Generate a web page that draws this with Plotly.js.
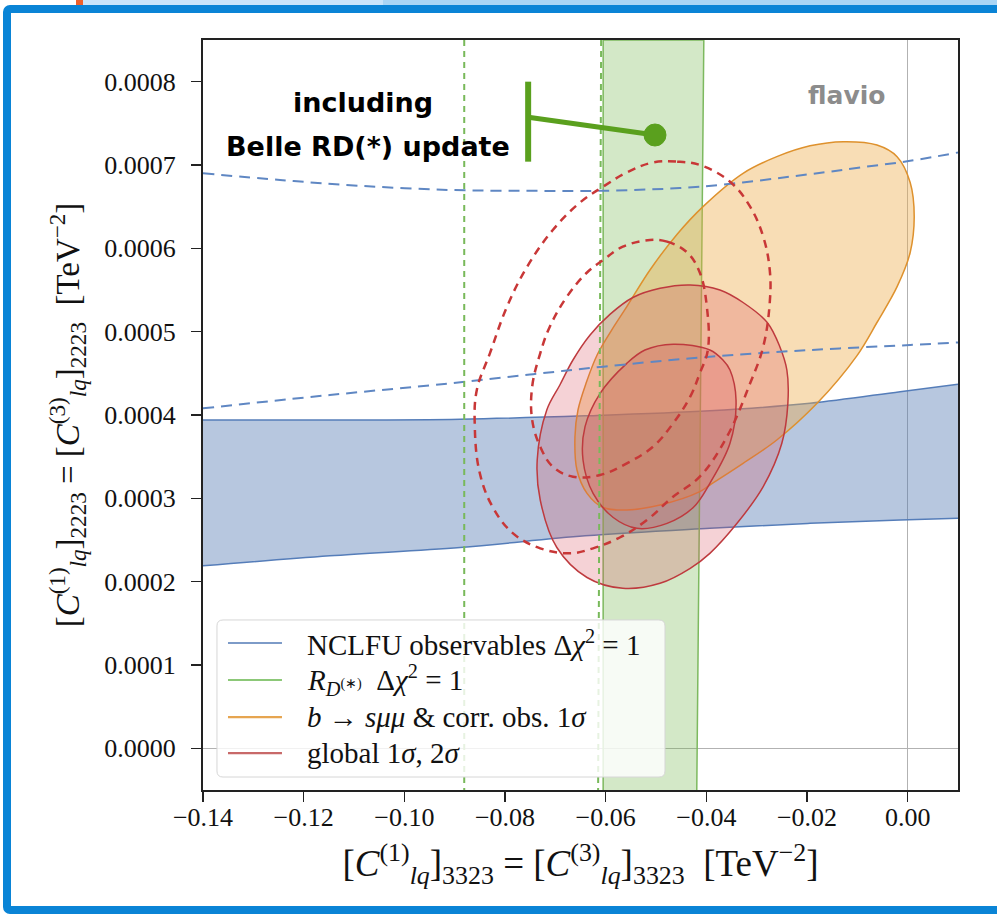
<!DOCTYPE html>
<html>
<head>
<meta charset="utf-8">
<script src="https://cdn.plot.ly/plotly-3.0.1.min.js"></script>
<style>
  html, body { margin: 0; padding: 0; background: #ffffff; }
  #wrap { position: relative; width: 997px; height: 920px; overflow: hidden; background: #fff; }
  #chart { position: absolute; left: 0; top: 0; width: 997px; height: 920px; }
  .frame { position: absolute; left: 3px; top: 5px; width: 1002px; height: 909px; box-sizing: border-box;
           border: 8px solid #0a84d6; border-radius: 7px; pointer-events: none; }
  .strip { position: absolute; left: 83px; top: 0; width: 914px; height: 5px; background: #a9d5f5; }
  .strip2 { position: absolute; left: 83px; top: 0; width: 300px; height: 5px; background: #c9e4fa; }
  .mark { position: absolute; left: 76px; top: 0; width: 7px; height: 6px; background: #f0602a; }
</style>
</head>
<body>
<div id="wrap">
  <div id="chart"></div>
  <div class="strip"></div><div class="strip2"></div><div class="mark"></div>
  <div class="frame"></div>
</div>
<script>
// ---- NCLFU observables (blue band, Δχ²=1) ----
const nclfuX      = [-0.14, -0.1148, -0.0889, -0.0641, -0.0393, -0.0194, -0.0015, 0.01];
const nclfuLower  = [0.000219, 0.000231, 0.000241, 0.000255, 0.000264, 0.000270, 0.000274, 0.000276];
const nclfuUpper  = [0.000394, 0.000394, 0.000395, 0.000399, 0.000405, 0.000414, 0.000428, 0.000437];
// old NCLFU (dashed blue)
const nclfuOldLowX = [-0.14, -0.1148, -0.0909, -0.0744, -0.0605, -0.0413, -0.0194, 0.0005, 0.01];
const nclfuOldLowY = [0.000408, 0.000424, 0.000438, 0.000449, 0.000458, 0.000469, 0.000478, 0.000484, 0.000487];
const nclfuOldUpX  = [-0.14, -0.1247, -0.1088, -0.0909, -0.0750, -0.0611, -0.0413, -0.0194, -0.0094, 0.0005, 0.01];
const nclfuOldUpY  = [0.000690, 0.000682, 0.000675, 0.000670, 0.000669, 0.000669, 0.000674, 0.000689, 0.000697, 0.000705, 0.000715];

// ---- R_D(*) (green band, Δχ²=1) ----
const rdX = [-0.0605, -0.0605, -0.0405, -0.0419];
const rdY = [-0.00005, 0.00085, 0.00085, -0.00005];
// old R_D(*) (dashed green)
const rdOld1X = [-0.0881, -0.0881];
const rdOld2X = [-0.0609, -0.0615];
const rdOldY  = [0.00085, -0.00005];

// ---- b -> s mu mu & corr. obs. 1 sigma (orange) ----
const bsmmX = [-0.0128, -0.0061, -0.0021, 0.0005, 0.0013, 0.0005, -0.0021, -0.0061, -0.0101, -0.0180, -0.0260, -0.0327, -0.0393, -0.0413, -0.0492, -0.0558, -0.0605, -0.0637, -0.0657, -0.0661, -0.0655, -0.0639, -0.0617, -0.0589, -0.0558, -0.0512, -0.0458, -0.0405, -0.0327, -0.0260, -0.0194];
const bsmmY = [0.000728, 0.000724, 0.000710, 0.000679, 0.000638, 0.000595, 0.000554, 0.000511, 0.000471, 0.000414, 0.000370, 0.000342, 0.000316, 0.000308, 0.000292, 0.000286, 0.000289, 0.000306, 0.000334, 0.000374, 0.000406, 0.000438, 0.000472, 0.000501, 0.000530, 0.000574, 0.000617, 0.000651, 0.000690, 0.000710, 0.000723];

// ---- global fit (red) ----
const glob2X = [-0.0373, -0.0327, -0.0279, -0.0254, -0.0240, -0.0238, -0.0250, -0.0287, -0.0339, -0.0393, -0.0432, -0.0492, -0.0566, -0.0637, -0.0697, -0.0730, -0.0736, -0.0717, -0.0691, -0.0665, -0.0631, -0.0591, -0.0546, -0.0492, -0.0432];
const glob2Y = [0.000550, 0.000535, 0.000511, 0.000482, 0.000454, 0.000414, 0.000366, 0.000314, 0.000270, 0.000234, 0.000216, 0.000198, 0.000192, 0.000205, 0.000241, 0.000298, 0.000346, 0.000406, 0.000436, 0.000466, 0.000496, 0.000521, 0.000541, 0.000552, 0.000556];
const glob1X = [-0.0466, -0.0393, -0.0367, -0.0353, -0.0341, -0.0353, -0.0393, -0.0426, -0.0478, -0.0538, -0.0585, -0.0625, -0.0645, -0.0641, -0.0611, -0.0558, -0.0522];
const glob1Y = [0.000485, 0.000478, 0.000466, 0.000454, 0.000418, 0.000366, 0.000318, 0.000289, 0.000270, 0.000264, 0.000277, 0.000306, 0.000346, 0.000386, 0.000426, 0.000462, 0.000478];
// old global fit (dashed red)
const globOld2X = [-0.0506, -0.0458, -0.0413, -0.0353, -0.0313, -0.0287, -0.0274, -0.0274, -0.0287, -0.0313, -0.0359, -0.0413, -0.0466, -0.0518, -0.0572, -0.0625, -0.0671, -0.0730, -0.0784, -0.0824, -0.0850, -0.0860, -0.0856, -0.0830, -0.0796, -0.0756, -0.0705, -0.0651, -0.0605, -0.0558];
const globOld2Y = [0.000703, 0.000704, 0.000700, 0.000680, 0.000650, 0.000614, 0.000574, 0.000535, 0.000482, 0.000438, 0.000374, 0.000326, 0.000302, 0.000274, 0.000253, 0.000240, 0.000234, 0.000240, 0.000258, 0.000289, 0.000330, 0.000386, 0.000430, 0.000474, 0.000530, 0.000578, 0.000622, 0.000655, 0.000674, 0.000691];
const globOld1X = [-0.0512, -0.0478, -0.0438, -0.0413, -0.0399, -0.0397, -0.0413, -0.0432, -0.0466, -0.0506, -0.0558, -0.0611, -0.0665, -0.0705, -0.0730, -0.0746, -0.0746, -0.0730, -0.0711, -0.0677, -0.0637, -0.0605, -0.0566];
const globOld1Y = [0.000610, 0.000608, 0.000595, 0.000571, 0.000530, 0.000478, 0.000450, 0.000422, 0.000390, 0.000362, 0.000342, 0.000328, 0.000326, 0.000338, 0.000362, 0.000394, 0.000434, 0.000474, 0.000506, 0.000542, 0.000571, 0.000586, 0.000602];

// ---- legend ----
const legendNames = [
  'NCLFU observables Δ<i>χ</i><sup>2</sup> = 1',
  '<i>R</i><sub><i>D</i><sup>(∗)</sup></sub>  Δ<i>χ</i><sup>2</sup> = 1',
  '<i>b</i> → <i>sμμ</i> &amp; corr. obs. 1<i>σ</i>',
  'global 1<i>σ</i>, 2<i>σ</i>'
];
const legendColors = ['rgb(125,155,200)', 'rgb(140,200,120)', 'rgb(230,165,80)', 'rgb(200,105,105)'];

function closed(a) { return a.concat([a[0]]); }

const BLUE = 'rgb(85,125,185)', GREEN = 'rgb(125,185,95)', ORANGE = 'rgb(222,145,45)', RED = 'rgb(190,58,62)';
const REDFILL = 'rgba(215,75,90,0.25)';

const traces = [
  {x: nclfuX, y: nclfuLower, mode: 'lines', line: {color: BLUE, width: 1.5, shape: 'spline'}, showlegend: false, hoverinfo: 'skip'},
  {x: nclfuX, y: nclfuUpper, mode: 'lines', name: legendNames[0], line: {color: BLUE, width: 1.5, shape: 'spline'}, fill: 'tonexty', fillcolor: 'rgba(76,114,176,0.40)', showlegend: false, hoverinfo: 'skip'},
  {x: rdX, y: rdY, mode: 'lines', name: legendNames[1], fill: 'toself', fillcolor: 'rgba(110,180,70,0.30)', line: {color: GREEN, width: 1.5}, showlegend: false, hoverinfo: 'skip'},
  {x: closed(bsmmX), y: closed(bsmmY), mode: 'lines', name: legendNames[2], fill: 'toself', fillcolor: 'rgba(238,170,70,0.40)', line: {color: ORANGE, width: 1.5, shape: 'spline', smoothing: 1}, showlegend: false, hoverinfo: 'skip'},
  {x: closed(glob2X), y: closed(glob2Y), mode: 'lines', name: legendNames[3], fill: 'toself', fillcolor: REDFILL, line: {color: RED, width: 1.5, shape: 'spline', smoothing: 1}, showlegend: false, hoverinfo: 'skip'},
  {x: closed(glob1X), y: closed(glob1Y), mode: 'lines', fill: 'toself', fillcolor: REDFILL, line: {color: RED, width: 1.5, shape: 'spline', smoothing: 1}, showlegend: false, hoverinfo: 'skip'},
  {x: nclfuOldLowX, y: nclfuOldLowY, mode: 'lines', line: {color: 'rgb(95,135,195)', width: 2, dash: '11px,7px', shape: 'spline'}, showlegend: false, hoverinfo: 'skip'},
  {x: nclfuOldUpX, y: nclfuOldUpY, mode: 'lines', line: {color: 'rgb(95,135,195)', width: 2, dash: '11px,7px', shape: 'spline'}, showlegend: false, hoverinfo: 'skip'},
  {x: rdOld1X, y: rdOldY, mode: 'lines', line: {color: 'rgb(120,185,90)', width: 2, dash: '6px,5px'}, showlegend: false, hoverinfo: 'skip'},
  {x: rdOld2X, y: rdOldY, mode: 'lines', line: {color: 'rgb(120,185,90)', width: 2, dash: '6px,5px'}, showlegend: false, hoverinfo: 'skip'},
  {x: closed(globOld2X), y: closed(globOld2Y), mode: 'lines', line: {color: 'rgb(200,55,55)', width: 2.5, dash: '8px,6px', shape: 'spline', smoothing: 1.1}, showlegend: false, hoverinfo: 'skip'},
  {x: closed(globOld1X), y: closed(globOld1Y), mode: 'lines', line: {color: 'rgb(200,55,55)', width: 2.5, dash: '8px,6px', shape: 'spline', smoothing: 1.1}, showlegend: false, hoverinfo: 'skip'}
];

const GREENMARK = '#5aa01e';
const serif = 'Liberation Serif, Times New Roman, serif';
const boldSans = 'DejaVu Sans, Arial, sans-serif';

// legend box geometry in paper units (plot area fractions)
const LX0 = 0.0185, LX1 = 0.6119, LY0 = 0.0173, LY1 = 0.2267, RX = 0.008, RY = 0.008;
const legendRowY = [0.196, 0.1467, 0.0973, 0.0493];
const legendBox = `M ${LX0+RX},${LY0} L ${LX1-RX},${LY0} Q ${LX1},${LY0} ${LX1},${LY0+RY} L ${LX1},${LY1-RY} Q ${LX1},${LY1} ${LX1-RX},${LY1} L ${LX0+RX},${LY1} Q ${LX0},${LY1} ${LX0},${LY1-RY} L ${LX0},${LY0+RY} Q ${LX0},${LY0} ${LX0+RX},${LY0} Z`;

const shapes = [
  {type: 'line', xref: 'x', yref: 'y', x0: -0.0754, x1: -0.0754, y0: 0.000800, y1: 0.000704, line: {color: GREENMARK, width: 6}},
  {type: 'line', xref: 'x', yref: 'y', x0: -0.0750, x1: -0.0502, y0: 0.000757, y1: 0.000736, line: {color: GREENMARK, width: 5}},
  {type: 'circle', xref: 'x', yref: 'y', xsizemode: 'pixel', ysizemode: 'pixel', xanchor: -0.0502, yanchor: 0.000736,
   x0: -11, x1: 11, y0: -11, y1: 11, fillcolor: GREENMARK, line: {color: GREENMARK, width: 1}},
  {type: 'path', xref: 'paper', yref: 'paper', path: legendBox, fillcolor: 'rgba(255,255,255,0.82)', line: {color: 'rgb(214,214,214)', width: 1}}
];
const annotations = [
  {xref: 'x', yref: 'y', x: -0.1082, y: 0.000775, text: '<b>including</b>', showarrow: false,
   font: {family: boldSans, size: 27, color: '#000'}},
  {xref: 'x', yref: 'y', x: -0.1072, y: 0.000722, text: '<b>Belle RD(*) update</b>', showarrow: false,
   font: {family: boldSans, size: 27, color: '#000'}},
  {xref: 'x', yref: 'y', x: -0.0121, y: 0.000783, text: '<b>flavio</b>', showarrow: false,
   font: {family: boldSans, size: 25, color: 'rgb(140,140,140)'}}
];
legendNames.forEach((n, i) => {
  shapes.push({type: 'line', xref: 'paper', yref: 'paper', x0: 0.0331, x1: 0.1046, y0: legendRowY[i], y1: legendRowY[i],
               line: {color: legendColors[i], width: 2.2}});
  annotations.push({xref: 'paper', yref: 'paper', x: 0.1351, y: legendRowY[i], xanchor: 'left', yanchor: 'middle',
                    text: n, showarrow: false, font: {family: serif, size: 29, color: '#111'}});
});

const layout = {
  width: 997, height: 920,
  margin: {l: 203, r: 39, t: 40, b: 130, pad: 0},
  paper_bgcolor: 'rgba(0,0,0,0)', plot_bgcolor: '#ffffff',
  showlegend: false,
  font: {family: serif, color: '#111', size: 26},
  xaxis: {
    range: [-0.14, 0.01], tick0: -0.14, dtick: 0.02, tickformat: '.2f',
    showgrid: false, zeroline: true, zerolinecolor: 'rgb(178,178,178)', zerolinewidth: 1.5,
    showline: true, mirror: true, linecolor: '#222', linewidth: 2,
    ticks: 'outside', ticklen: 10, tickwidth: 1.5, tickcolor: '#222', ticklabelstandoff: -7,
    tickfont: {family: serif, size: 26, color: '#111'},
    title: {text: '[<i>C</i><sup>(1)</sup><sub><i>lq</i></sub>]<sub>3323</sub> = [<i>C</i><sup>(3)</sup><sub><i>lq</i></sub>]<sub>3323</sub>  [TeV<sup>−2</sup>]',
            font: {family: serif, size: 37, color: '#111'}, standoff: 19}
  },
  yaxis: {
    range: [-0.00005, 0.00085], tick0: 0, dtick: 0.0001, tickformat: '.4f',
    showgrid: false, zeroline: true, zerolinecolor: 'rgb(178,178,178)', zerolinewidth: 1.5,
    showline: true, mirror: true, linecolor: '#222', linewidth: 2,
    ticks: 'outside', ticklen: 10, tickwidth: 1.5, tickcolor: '#222', ticklabelstandoff: 10,
    tickfont: {family: serif, size: 26, color: '#111'},
    title: {text: '[<i>C</i><sup>(1)</sup><sub><i>lq</i></sub>]<sub>2223</sub> = [<i>C</i><sup>(3)</sup><sub><i>lq</i></sub>]<sub>2223</sub>  [TeV<sup>−2</sup>]',
            font: {family: serif, size: 33, color: '#111'}, standoff: 15}
  },
  shapes: shapes,
  annotations: annotations
};

Plotly.newPlot('chart', traces, layout, {displayModeBar: false, staticPlot: true});
</script>
</body>
</html>
